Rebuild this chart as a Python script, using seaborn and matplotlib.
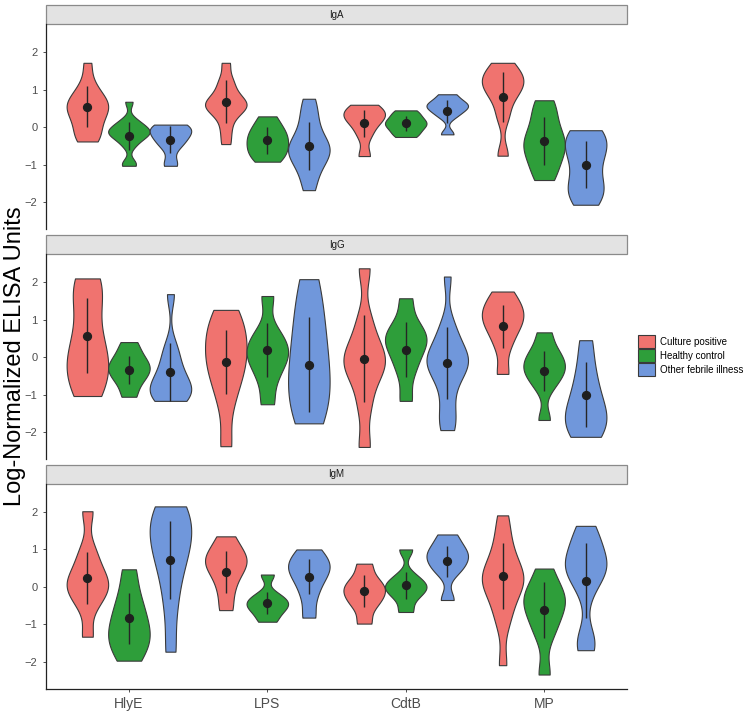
import numpy as np
import pandas as pd
import matplotlib.pyplot as plt
import seaborn as sns
from matplotlib.patches import Rectangle, Patch

# categories
antigens = ["HlyE", "LPS", "CdtB", "MP"]
groups = ["Culture positive", "Healthy control", "Other febrile illness"]
isotypes = ["IgA", "IgG", "IgM"]
colors = ["#F0736F", "#2E9E3A", "#7097DB"]

# sample values per isotype / antigen, one list per group (CP, HC, OFI)
iga_hlye = [[-0.38, -0.3, -0.15, 0.05, 0.2, 0.35, 0.45, 0.55, 0.6, 0.7, 0.8, 0.95, 1.2, 1.72],
            [-1.03, -0.95, -0.5, -0.35, -0.25, -0.2, -0.15, -0.1, -0.05, 0.0, 0.1, 0.2, 0.68],
            [-1.03, -0.95, -0.55, -0.45, -0.35, -0.25, -0.2, -0.1, -0.05, 0.0, 0.05, 0.07]]
iga_lps = [[-0.45, -0.1, 0.2, 0.4, 0.5, 0.55, 0.6, 0.7, 0.75, 0.9, 1.1, 1.3, 1.72],
           [-0.92, -0.75, -0.6, -0.45, -0.3, -0.15, 0.0, 0.29],
           [-1.68, -1.3, -1.0, -0.85, -0.7, -0.6, -0.5, -0.4, -0.2, 0.1, 0.4, 0.76]]
iga_cdtb = [[-0.77, -0.2, 0.1, 0.25, 0.35, 0.45, 0.6],
            [-0.26, -0.2, -0.1, 0.0, 0.05, 0.1, 0.15, 0.2, 0.3, 0.4, 0.45],
            [-0.19, 0.3, 0.45, 0.55, 0.6, 0.7, 0.88]]
iga_mp = [[-0.76, 0.3, 0.8, 1.0, 1.2, 1.3, 1.45, 1.72],
          [-1.41, -1.2, -0.9, -0.7, -0.55, -0.4, -0.3, -0.1, 0.2, 0.5, 0.72],
          [-2.07, -1.85, -1.7, -1.6, -1.4, -1.0, -0.8, -0.6, -0.45, -0.3, -0.15, -0.08]]

igg_hlye = [[-1.04, -0.9, -0.6, -0.4, -0.2, 0.0, 0.2, 0.5, 0.9, 1.5, 1.8, 1.95, 2.1],
            [-1.06, -0.7, -0.5, -0.35, -0.25, -0.1, 0.1, 0.4],
            [-1.17, -1.1, -1.0, -0.9, -0.8, -0.7, -0.5, -0.3, 0.0, 0.3, 1.68]]
igg_lps = [[-2.38, -1.2, -0.6, -0.3, 0.0, 0.3, 0.6, 0.9, 1.26],
           [-1.26, -0.6, -0.2, 0.0, 0.2, 0.4, 0.7, 1.63],
           [-1.77, -1.4, -1.0, -0.6, -0.2, 0.3, 0.8, 1.4, 2.08]]
igg_cdtb = [[-2.4, -1.3, -0.6, -0.3, -0.1, 0.1, 0.4, 1.0, 2.37],
            [-1.17, -0.4, 0.0, 0.3, 0.5, 0.6, 0.9, 1.57],
            [-1.95, -1.7, -1.3, -0.8, -0.5, -0.3, -0.2, -0.1, 0.0, 0.1, 0.3, 0.6, 0.9, 2.15]]
igg_mp = [[-0.45, 0.3, 0.7, 0.9, 1.1, 1.25, 1.45, 1.75],
          [-1.68, -0.8, -0.5, -0.35, -0.2, 0.0, 0.2, 0.66],
          [-2.13, -1.9, -1.7, -1.5, -1.2, -0.8, -0.3, 0.45]]

igm_hlye = [[-1.33, -0.5, -0.2, 0.0, 0.1, 0.3, 0.6, 1.0, 2.02],
            [-1.97, -1.6, -1.4, -1.2, -0.9, -0.6, -0.2, 0.47],
            [-1.73, -0.5, 0.3, 0.8, 1.1, 1.4, 1.7, 2.0, 2.15]]
igm_lps = [[-0.62, -0.1, 0.3, 0.5, 0.7, 0.8, 1.0, 1.35],
           [-0.93, -0.7, -0.55, -0.45, -0.35, -0.2, 0.33],
           [-0.82, -0.2, 0.2, 0.4, 0.6, 0.7, 1.0]]
igm_cdtb = [[-0.98, -0.5, -0.3, -0.1, 0.0, 0.2, 0.62],
            [-0.67, -0.3, -0.1, 0.0, 0.1, 0.3, 1.0],
            [-0.35, 0.4, 0.6, 0.8, 0.9, 1.1, 1.4]]
igm_mp = [[-2.09, -1.0, -0.6, -0.3, 0.0, 0.1, 0.2, 0.3, 0.5, 0.7, 1.0, 1.4, 1.91],
          [-2.34, -1.3, -0.9, -0.6, -0.4, -0.2, 0.0, 0.49],
          [-1.69, -1.55, -1.3, -0.2, 0.2, 0.35, 0.45, 0.55, 0.65, 0.8, 1.0, 1.2, 1.45, 1.63]]

# mean and sd per antigen/group (HlyE CP, HC, OFI, LPS CP, ...)
iga_mean = [0.55, -0.24, -0.33, 0.68, -0.35, -0.5, 0.1, 0.1, 0.42, 0.8, -0.37, -1.0]
iga_sd = [0.55, 0.37, 0.37, 0.58, 0.36, 0.64, 0.35, 0.19, 0.31, 0.67, 0.65, 0.63]
igg_mean = [0.57, -0.34, -0.4, -0.13, 0.19, -0.2, -0.04, 0.2, -0.16, 0.82, -0.37, -1.0]
igg_sd = [1.0, 0.37, 0.77, 0.86, 0.73, 1.28, 1.15, 0.73, 0.97, 0.57, 0.53, 0.87]
igm_mean = [0.23, -0.84, 0.72, 0.4, -0.43, 0.27, -0.12, 0.04, 0.68, 0.28, -0.62, 0.16]
igm_sd = [0.7, 0.69, 1.05, 0.57, 0.3, 0.47, 0.43, 0.36, 0.42, 0.88, 0.74, 1.0]

panels = {
    "IgA": ([iga_hlye, iga_lps, iga_cdtb, iga_mp], iga_mean, iga_sd),
    "IgG": ([igg_hlye, igg_lps, igg_cdtb, igg_mp], igg_mean, igg_sd),
    "IgM": ([igm_hlye, igm_lps, igm_cdtb, igm_mp], igm_mean, igm_sd),
}


def nrd0(kde):
    # R's default bandwidth rule, as a factor of the data sd for scipy
    x = kde.dataset.ravel()
    sd = np.std(x, ddof=1)
    q75, q25 = np.percentile(x, [75, 25])
    lo = min(sd, (q75 - q25) / 1.34)
    if lo <= 0:
        lo = sd
    return 0.9 * lo * len(x) ** -0.2 / sd


plt.rcParams['font.family'] = ['Liberation Sans', 'DejaVu Sans']

fig, axes = plt.subplots(3, 1, figsize=(7.52, 7.13), dpi=100, sharex=True, sharey=True)
fig.subplots_adjust(left=0.061, right=0.834, top=0.966, bottom=0.034, hspace=0.122)

offsets = [-0.3, 0.0, 0.3]

for ax, iso in zip(axes, isotypes):
    lists, means, sds = panels[iso]
    rows = []
    for a, per_group in zip(antigens, lists):
        for g, vals in zip(groups, per_group):
            for v in vals:
                rows.append((a, g, v))
    df = pd.DataFrame(rows, columns=["antigen", "group", "value"])

    sns.violinplot(data=df, x="antigen", y="value", hue="group",
                   order=antigens, hue_order=groups, palette=colors,
                   width=0.9, cut=0, density_norm="width", inner=None,
                   bw_method=nrd0, linewidth=0.8, linecolor="#3a3a3a",
                   saturation=1, legend=False, ax=ax)

    # mean +/- sd
    xs = np.repeat(np.arange(len(antigens)), 3) + np.tile(offsets, len(antigens))
    m = np.array(means)
    s = np.array(sds)
    ax.vlines(xs, m - s, m + s, color="#262626", lw=1.0, zorder=5)
    ax.scatter(xs, m, s=32, color="#1f1f1f", zorder=6)

    ax.set_xlim(-0.6, 3.6)
    ax.set_ylim(-2.72, 2.75)
    ax.set_yticks([-2, -1, 0, 1, 2])
    ax.set_xlabel("")
    ax.set_ylabel("")
    for sp in ["top", "right", "bottom"]:
        ax.spines[sp].set_visible(False)
    ax.spines["left"].set_linewidth(0.9)
    ax.spines["left"].set_color("#222222")
    ax.tick_params(axis="y", labelsize=8, labelcolor="#4D4D4D", length=2.5,
                   width=0.6, color="#333333")
    ax.tick_params(axis="x", bottom=False, labelbottom=False)

    # facet strip
    strip_h = 19 / 205
    ax.add_patch(Rectangle((0, 1), 1, strip_h, transform=ax.transAxes,
                           facecolor="#E3E3E3", edgecolor="#8a8a8a", lw=0.9,
                           clip_on=False))
    ax.text(0.5, 1 + strip_h / 2, iso, transform=ax.transAxes, ha="center",
            va="center", fontsize=7, color="#1a1a1a")

bottom_ax = axes[-1]
bottom_ax.spines["bottom"].set_visible(True)
bottom_ax.spines["bottom"].set_linewidth(0.9)
bottom_ax.spines["bottom"].set_color("#222222")
bottom_ax.tick_params(axis="x", bottom=True, labelbottom=True, labelsize=10,
                      labelcolor="#4D4D4D", length=2.5, width=0.6, color="#333333")
bottom_ax.set_xticks(range(len(antigens)))
bottom_ax.set_xticklabels(antigens)

fig.text(0.02, 0.5, "Log-Normalized ELISA Units", rotation=90, ha="center",
         va="center", fontsize=17)

handles = [Patch(facecolor=c, edgecolor="#3a3a3a", lw=0.8) for c in colors]
fig.legend(handles, groups, loc="upper left", bbox_to_anchor=(638 / 752, 1 - 335 / 713),
           frameon=False, fontsize=7, handlelength=1.75, handleheight=1.75,
           labelspacing=0.05, handletextpad=0.5, borderpad=0, borderaxespad=0)

fig.savefig("out.png", dpi=100)
